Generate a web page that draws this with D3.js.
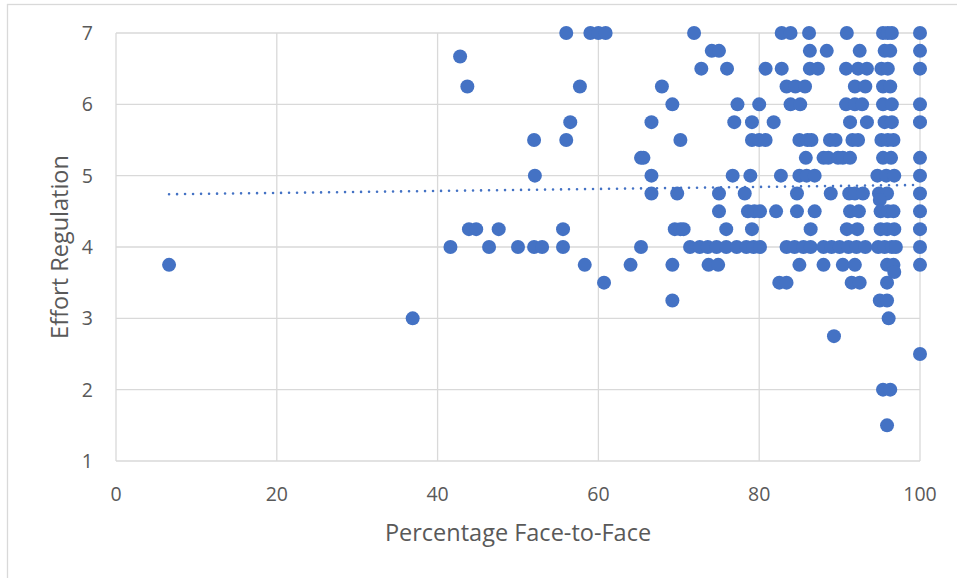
<!DOCTYPE html>
<html>
<head>
<meta charset="utf-8">
<script src="https://cdn.jsdelivr.net/npm/d3@7"></script>
<style>
  body { margin: 0; background: #fff; }
  svg { display: block; }
</style>
</head>
<body>
<svg id="chart"></svg>
<script>
var width = 957;
var height = 578;

// effort levels (y) and the % face-to-face values (x) seen at each level
var effortLevels = [7, 6.75, 6.67, 6.5, 6.25, 6, 5.75, 5.5, 5.25, 5, 4.75, 4.66, 4.5, 4.25, 4, 3.75, 3.65, 3.5, 3.25, 3, 2.75, 2.5, 2, 1.5];
var pctAtLevel = [
    [56.0, 59.0, 60.0, 60.9, 71.9, 82.8, 83.9, 86.2, 90.9, 95.4, 96.0, 96.5, 100],
    [74.1, 75.0, 86.3, 88.4, 92.5, 95.6, 96.3, 100],
    [42.8],
    [72.8, 76.0, 80.8, 82.8, 86.3, 87.3, 90.8, 92.3, 93.4, 95.2, 96.0, 100],
    [43.7, 57.7, 67.9, 83.4, 84.5, 85.7, 91.9, 93.2, 95.4, 96.3],
    [69.2, 77.3, 80.0, 83.9, 85.1, 90.8, 91.9, 92.8, 95.4, 96.5, 100],
    [56.5, 66.6, 76.9, 79.1, 81.8, 91.3, 93.4, 95.6, 96.5, 100],
    [52.0, 56.0, 70.2, 79.1, 80.0, 80.8, 85.0, 86.0, 86.5, 88.8, 89.5, 91.6, 92.3, 95.2, 96.0, 96.7],
    [65.3, 65.6, 85.8, 88.0, 88.6, 89.8, 90.4, 91.3, 95.4, 96.4, 100],
    [52.1, 66.6, 76.7, 78.9, 82.7, 85.0, 85.9, 86.9, 94.7, 95.8, 96.8, 100],
    [66.6, 69.8, 75.0, 78.2, 84.7, 88.9, 91.2, 91.9, 92.9, 94.9, 95.9, 100],
    [95.0],
    [75.0, 78.6, 79.4, 80.1, 82.1, 84.7, 86.9, 91.3, 92.4, 95.1, 96.0, 96.7, 100],
    [43.9, 44.8, 47.6, 55.6, 69.5, 70.2, 70.6, 75.9, 79.1, 86.4, 90.9, 92.2, 95.1, 95.9, 96.8, 100],
    [41.6, 46.4, 50.0, 52.0, 53.0, 55.6, 65.3, 71.4, 72.6, 73.6, 74.7, 75.9, 77.2, 78.4, 79.3, 80.1,
     83.4, 84.4, 85.5, 86.4, 88.0, 89.0, 90.0, 91.1, 92.1, 93.2, 94.8, 95.6, 96.5, 97.0, 100],
    [6.6, 58.3, 64.0, 69.2, 73.7, 74.9, 85.0, 88.0, 90.4, 91.9, 95.9, 96.7, 100],
    [96.8],
    [60.7, 82.5, 83.4, 91.5, 92.5, 95.9],
    [69.2, 95.0, 95.9],
    [36.9, 96.1],
    [89.3],
    [100],
    [95.4, 96.3],
    [95.9]
];

var xTicks = [0, 20, 40, 60, 80, 100];
var yTicks = [1, 2, 3, 4, 5, 6, 7];

// linear trendline
var trendSlope = 0.0014;
var trendIntercept = 4.73;

var points = [];
effortLevels.forEach(function (lv, i) {
    pctAtLevel[i].forEach(function (p) {
        points.push({ x: p, y: lv });
    });
});

var margin = { left: 116, right: 37, top: 33, bottom: 117 };

var xScale = d3.scaleLinear().domain([0, 100]).range([margin.left, width - margin.right]);
var yScale = d3.scaleLinear().domain([1, 7]).range([height - margin.bottom, margin.top]);

var svg = d3.select('#chart').attr('width', width).attr('height', height);

// outer chart frame
svg.append('rect')
    .attr('x', 7.5).attr('y', 4.5)
    .attr('width', 1200).attr('height', 1200)
    .attr('fill', 'white')
    .attr('stroke', '#d9d9d9')
    .attr('stroke-width', 1.3);

// gridlines
svg.append('g').selectAll('line.h')
    .data(yTicks)
    .enter().append('line')
        .attr('x1', xScale(0)).attr('x2', xScale(100))
        .attr('y1', function (d) { return yScale(d); })
        .attr('y2', function (d) { return yScale(d); })
        .attr('stroke', '#d9d9d9')
        .attr('stroke-width', 1.3);

svg.append('g').selectAll('line.v')
    .data(xTicks)
    .enter().append('line')
        .attr('y1', yScale(1)).attr('y2', yScale(7))
        .attr('x1', function (d) { return xScale(d); })
        .attr('x2', function (d) { return xScale(d); })
        .attr('stroke', '#d9d9d9')
        .attr('stroke-width', 1.3);

// tick labels
var fontFam = '"Open Sans", "Noto Sans", sans-serif';

svg.append('g').selectAll('text')
    .data(yTicks)
    .enter().append('text')
        .attr('x', 93)
        .attr('y', function (d) { return yScale(d) + 7; })
        .attr('text-anchor', 'end')
        .attr('font-family', fontFam)
        .attr('font-size', 19.5)
        .attr('fill', '#595959')
        .text(function (d) { return d; });

svg.append('g').selectAll('text')
    .data(xTicks)
    .enter().append('text')
        .attr('x', function (d) { return xScale(d); })
        .attr('y', 501)
        .attr('text-anchor', 'middle')
        .attr('font-family', fontFam)
        .attr('font-size', 19.5)
        .attr('fill', '#595959')
        .text(function (d) { return d; });

// axis titles
svg.append('text')
    .attr('x', 518)
    .attr('y', 541)
    .attr('text-anchor', 'middle')
    .attr('font-family', fontFam)
    .attr('font-size', 23.5)
    .attr('fill', '#595959')
    .text('Percentage Face-to-Face');

svg.append('text')
    .attr('transform', 'translate(68, 247) rotate(-90)')
    .attr('text-anchor', 'middle')
    .attr('font-family', fontFam)
    .attr('font-size', 23.5)
    .attr('fill', '#595959')
    .text('Effort Regulation');

// points
svg.append('g').selectAll('circle')
    .data(points)
    .enter().append('circle')
        .attr('cx', function (d) { return xScale(d.x); })
        .attr('cy', function (d) { return yScale(d.y); })
        .attr('r', 7)
        .attr('fill', '#4472c4');

// dotted trendline
var xMin = d3.min(points, function (d) { return d.x; });
var xMax = d3.max(points, function (d) { return d.x; });
svg.append('line')
    .attr('x1', xScale(xMin))
    .attr('y1', yScale(trendIntercept + trendSlope * xMin))
    .attr('x2', xScale(xMax))
    .attr('y2', yScale(trendIntercept + trendSlope * xMax))
    .attr('stroke', '#4472c4')
    .attr('stroke-width', 2.6)
    .attr('stroke-linecap', 'round')
    .attr('stroke-dasharray', '0,8');
</script>
</body>
</html>
